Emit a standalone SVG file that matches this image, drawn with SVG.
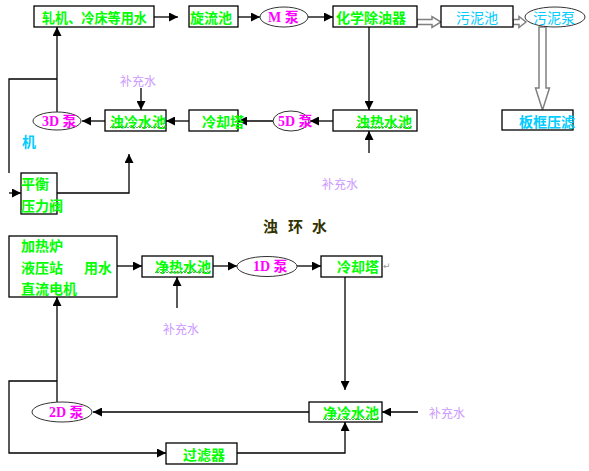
<svg xmlns="http://www.w3.org/2000/svg" width="589" height="471" viewBox="0 0 589 471">
<defs>
<marker id="ah" markerUnits="userSpaceOnUse" markerWidth="9" markerHeight="9" viewBox="0 0 10 10" refX="10" refY="5" orient="auto">
<path d="M0,0 L10,5 L0,10 z" fill="#000"/>
</marker>
<style>
.box{fill:#fff;stroke:#000;stroke-width:1.3}
.ell{fill:#fff;stroke:#333;stroke-width:1}
.ln{fill:none;stroke:#000;stroke-width:1.3}
.ar{fill:none;stroke:#000;stroke-width:1.3;marker-end:url(#ah)}
.hol{fill:#fff;stroke:#808080;stroke-width:1.5;stroke-linejoin:miter}
.g{font-family:"Noto Sans CJK SC",sans-serif;font-weight:bold;font-size:14px;fill:#00FF00;dominant-baseline:central}
.m{font-family:"Liberation Serif","Noto Sans CJK SC",serif;font-weight:bold;font-size:14px;fill:#FF00FF;dominant-baseline:central}
.c{font-family:"Noto Sans CJK SC",sans-serif;font-size:14px;fill:#00CCFF;dominant-baseline:central}
.b{font-family:"Noto Sans CJK SC",sans-serif;font-size:12px;fill:#CC99FF;dominant-baseline:central}
.t{font-family:"Noto Sans CJK SC",sans-serif;font-weight:bold;font-size:15px;fill:#333300;dominant-baseline:central}
.wv{fill:none;stroke:#339933;stroke-width:0.8}
</style>
</defs>

<g id="connectors">
<line class="ar" x1="154" y1="17" x2="178" y2="17"/>
<line class="ar" x1="238" y1="17" x2="260" y2="17"/>
<line class="ar" x1="308" y1="17" x2="333" y2="17"/>
<line class="ar" x1="369" y1="27" x2="369" y2="110"/>
<line class="ar" x1="369" y1="153" x2="369" y2="131"/>
<line class="ar" x1="333" y1="121" x2="310" y2="121"/>
<line class="ar" x1="273" y1="121" x2="238" y2="121"/>
<line class="ar" x1="189" y1="121" x2="166" y2="121"/>
<line class="ar" x1="141" y1="88" x2="141" y2="110"/>
<line class="ar" x1="105" y1="121" x2="82" y2="121"/>
<line class="ar" x1="57" y1="112" x2="57" y2="27"/>
<polyline class="ln" points="57,79 9,79 9,173"/>
<line class="ar" x1="9" y1="193" x2="21" y2="193"/>
<polyline class="ar" points="57,193 129,193 129,154"/>
<line class="ar" x1="117" y1="266" x2="142" y2="266"/>
<line class="ar" x1="177" y1="308" x2="177" y2="277"/>
<line class="ar" x1="213" y1="266" x2="237" y2="266"/>
<line class="ar" x1="297" y1="266" x2="321" y2="266"/>
<line class="ar" x1="345" y1="277" x2="345" y2="390"/>
<line class="ar" x1="418" y1="412" x2="382" y2="412"/>
<line class="ar" x1="309" y1="412" x2="93" y2="412"/>
<line class="ar" x1="57" y1="402" x2="57" y2="297"/>
<polyline class="ar" points="57,381 9,381 9,453 166,453"/>
<polyline class="ar" points="237,453 345,453 345,422"/>
<path class="hol" d="M417,19.5 H432 V16.5 L441,22 L432,27.5 V24.5 H417 Z"/>
<path class="hol" d="M513,19.5 H519 V16.5 L526,22 L519,27.5 V24.5 H513 Z"/>
<path class="hol" d="M539,27 V88 H535.5 L542.5,110 L549.5,88 H546 V27 Z"/>
</g>

<g id="n-zhaji"><rect class="box" x="34" y="6" width="120" height="21"/><text class="g" x="42" y="16.5" font-size="13" textLength="105" lengthAdjust="spacingAndGlyphs">轧机、冷床等用水</text></g>
<g id="n-xuanliu"><rect class="box" x="189" y="6" width="49" height="21"/><text class="g" x="190" y="16.5">旋流池</text></g>
<g id="n-mpump"><ellipse class="ell" cx="284" cy="17" rx="24" ry="10"/><text class="m" x="268" y="17">M 泵</text></g>
<g id="n-chuyou"><rect class="box" x="333" y="6" width="84" height="21"/><text class="g" x="336" y="16.5">化学除油器</text></g>
<g id="n-wunichi"><rect class="box" x="441" y="6" width="72" height="21"/><text class="c" x="456" y="16.5">污泥池</text></g>
<g id="n-wunibeng"><ellipse class="ell" cx="555" cy="17" rx="30" ry="10"/><text class="c" x="533" y="17">污泥泵</text></g>
<g id="n-bankuang"><rect class="box" x="502" y="110" width="71" height="20"/><text class="c" x="519" y="120.5" font-weight="bold">板框压滤</text></g>
<g id="n-zhuore"><rect class="box" x="333" y="110" width="84" height="21"/><text class="g" x="356" y="120.5">浊热水池</text><path class="wv" d="M356,128 l1.5,-1.5 l1.5,1.5 l1.5,-1.5 l1.5,1.5 l1.5,-1.5 l1.5,1.5 l1.5,-1.5 l1.5,1.5 l1.5,-1.5 l1.5,1.5 l1.5,-1.5 l1.5,1.5 l1.5,-1.5 l1.5,1.5 l1.5,-1.5 l1.5,1.5 l1.5,-1.5 l1.5,1.5 l1.5,-1.5 l1.5,1.5 l1.5,-1.5 l1.5,1.5 l1.5,-1.5 l1.5,1.5 l1.5,-1.5 l1.5,1.5 l1.5,-1.5 l1.5,1.5 l1.5,-1.5 l1.5,1.5 l1.5,-1.5 l1.5,1.5 l1.5,-1.5 l1.5,1.5 l1.5,-1.5 l1.5,1.5 l1.5,-1.5"/></g>
<g id="n-5d"><ellipse class="ell" cx="291" cy="121" rx="18" ry="10"/><text class="m" x="278" y="121">5D 泵</text></g>
<g id="n-lengque1"><rect class="box" x="189" y="110" width="49" height="21"/><text class="g" x="202" y="120.5" font-size="12">冷却塔</text></g>
<g id="n-zhuoleng"><rect class="box" x="105" y="110" width="61" height="21"/><text class="g" x="110" y="120.5">浊冷水池</text><path class="wv" d="M110,128 l1.5,-1.5 l1.5,1.5 l1.5,-1.5 l1.5,1.5 l1.5,-1.5 l1.5,1.5 l1.5,-1.5 l1.5,1.5 l1.5,-1.5 l1.5,1.5 l1.5,-1.5 l1.5,1.5 l1.5,-1.5 l1.5,1.5 l1.5,-1.5 l1.5,1.5 l1.5,-1.5 l1.5,1.5 l1.5,-1.5 l1.5,1.5 l1.5,-1.5 l1.5,1.5 l1.5,-1.5 l1.5,1.5 l1.5,-1.5 l1.5,1.5 l1.5,-1.5 l1.5,1.5 l1.5,-1.5 l1.5,1.5 l1.5,-1.5 l1.5,1.5 l1.5,-1.5 l1.5,1.5 l1.5,-1.5 l1.5,1.5 l1.5,-1.5"/></g>
<g id="n-3d"><ellipse class="ell" cx="57" cy="121" rx="24" ry="9"/><text class="m" x="42" y="121">3D 泵</text></g>
<g id="n-bu1"><text class="b" x="120" y="80">补充水</text></g>
<g id="n-ji"><text class="c" x="22" y="141" font-weight="bold" font-size="13">机</text></g>
<g id="n-pingheng"><rect class="box" x="21" y="173" width="36" height="41"/><text class="g" x="21" y="183" font-size="12">平衡</text><text class="g" x="21" y="205" font-size="12">压力阀</text></g>
<g id="n-bu2"><text class="b" x="322" y="183">补充水</text></g>
<g id="title"><text class="t" x="263" y="225">浊</text><text class="t" x="288" y="225">环</text><text class="t" x="312" y="225">水</text></g>
<g id="n-jiare"><rect class="box" x="9" y="236" width="108" height="61"/><text class="g" x="21" y="245">加热炉</text><text class="g" x="21" y="267">液压站</text><text class="g" x="84" y="267">用水</text><text class="g" x="21" y="288">直流电机</text></g>
<g id="n-jingre"><rect class="box" x="142" y="256" width="71" height="21"/><text class="g" x="155" y="266">净热水池</text><path class="wv" d="M155,273 l1.5,-1.5 l1.5,1.5 l1.5,-1.5 l1.5,1.5 l1.5,-1.5 l1.5,1.5 l1.5,-1.5 l1.5,1.5 l1.5,-1.5 l1.5,1.5 l1.5,-1.5 l1.5,1.5 l1.5,-1.5 l1.5,1.5 l1.5,-1.5 l1.5,1.5 l1.5,-1.5 l1.5,1.5 l1.5,-1.5 l1.5,1.5 l1.5,-1.5 l1.5,1.5 l1.5,-1.5 l1.5,1.5 l1.5,-1.5 l1.5,1.5 l1.5,-1.5 l1.5,1.5 l1.5,-1.5 l1.5,1.5 l1.5,-1.5 l1.5,1.5 l1.5,-1.5 l1.5,1.5 l1.5,-1.5 l1.5,1.5 l1.5,-1.5"/></g>
<g id="n-1d"><ellipse class="ell" cx="267" cy="266.5" rx="30" ry="10"/><text class="m" x="253" y="266.5">1D 泵</text></g>
<g id="n-lengque2"><rect class="box" x="321" y="256" width="61" height="21"/><text class="g" x="337" y="266">冷却塔</text><text x="383" y="266" font-family="DejaVu Sans,sans-serif" font-size="9" fill="#999" dominant-baseline="central">↵</text></g>
<g id="n-bu3"><text class="b" x="163" y="328">补充水</text></g>
<g id="n-jingleng"><rect class="box" x="309" y="402" width="73" height="20"/><text class="g" x="323" y="412">净冷水池</text><path class="wv" d="M323,420 l1.5,-1.5 l1.5,1.5 l1.5,-1.5 l1.5,1.5 l1.5,-1.5 l1.5,1.5 l1.5,-1.5 l1.5,1.5 l1.5,-1.5 l1.5,1.5 l1.5,-1.5 l1.5,1.5 l1.5,-1.5 l1.5,1.5 l1.5,-1.5 l1.5,1.5 l1.5,-1.5 l1.5,1.5 l1.5,-1.5 l1.5,1.5 l1.5,-1.5 l1.5,1.5 l1.5,-1.5 l1.5,1.5 l1.5,-1.5 l1.5,1.5 l1.5,-1.5 l1.5,1.5 l1.5,-1.5 l1.5,1.5 l1.5,-1.5 l1.5,1.5 l1.5,-1.5 l1.5,1.5 l1.5,-1.5 l1.5,1.5 l1.5,-1.5"/></g>
<g id="n-bu4"><text class="b" x="429" y="412" font-size="13">补充水</text></g>
<g id="n-2d"><ellipse class="ell" cx="62" cy="412" rx="30" ry="10"/><text class="m" x="49" y="412">2D 泵</text></g>
<g id="n-guolv"><rect class="box" x="166" y="443" width="71" height="21"/><text class="g" x="183" y="453.5">过滤器</text></g>
</svg>
